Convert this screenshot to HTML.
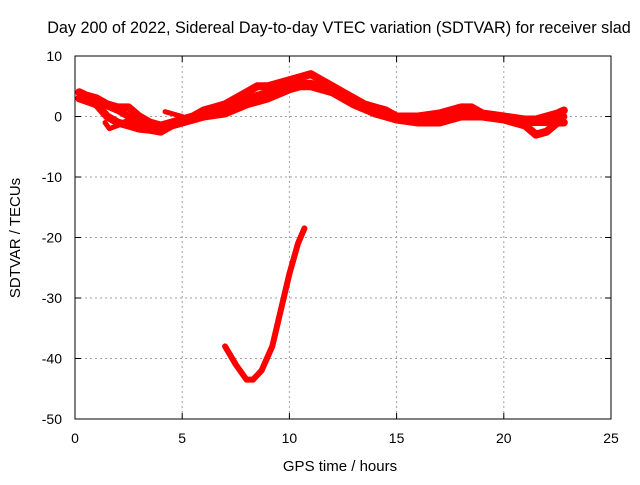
<!DOCTYPE html>
<html><head><meta charset="utf-8"><style>
body{margin:0;background:#fff;font-family:"Liberation Sans",sans-serif}
svg text{font-family:"Liberation Sans",sans-serif;font-size:14px;fill:#000}
</style></head><body>
<svg id="chart" width="640" height="480">
<text x="339" y="33" text-anchor="middle" style="font-size:16.2px">Day 200 of 2022, Sidereal Day-to-day VTEC variation (SDTVAR) for receiver slad</text>
<text x="340" y="471" text-anchor="middle" style="font-size:15px">GPS time / hours</text>
<text transform="translate(20,238) rotate(-90)" text-anchor="middle" style="font-size:15px">SDTVAR / TECUs</text>
<g id="grid"></g><g id="series"></g>
<rect x="75" y="56" width="536" height="363" fill="none" stroke="#000" stroke-width="1"/>
</svg>
<script>
const xTicks=[0,5,10,15,20,25];
const yTicks=[10,0,-10,-20,-30,-40,-50];
const seriesUpperH=[0.2,0.5,1,1.5,2,2.5,3,3.5,4,4.5,5,5.5,6,6.5,7,7.5,8,8.5,9,9.5,10,10.5,11,11.5,12,12.5,13,13.5,14,14.5,15,16,17,18,18.5,19,20,21,21.5,22,22.5,22.8];
const seriesUpperV=[4,3.5,3,2,1.5,1.5,0,-1,-1.5,-1,-0.5,0,1,1.5,2,3,4,5,5,5.5,6,6.5,7,6,5,4,3,2,1.5,1,0,0,0.5,1.5,1.5,0.5,0,-0.5,-0.5,0,0.5,1];
const seriesMidH=[0.3,1,2,3,4,5,6,7,8,9,10,10.5,11,12,13,14,15,16,17,18,19,20,21,22,22.8];
const seriesMidV=[3.5,2.5,1,-1,-2,-1,0.5,1.5,3,4,5,5.5,5.5,4.5,2.5,1,0,-0.5,0,1,0.5,-0.5,-1,-1,0];
const seriesLowerH=[0.2,1,1.5,2,2.5,3,3.5,4,4.5,5,6,7,8,9,10,10.5,11,11.5,12,13,14,15,16,17,18,19,20,21,21.5,22,22.5,22.8];
const seriesLowerV=[3,2,0,-1,-1.5,-2,-2.2,-2.5,-1.5,-1,0,0.5,2,3,4.5,5,5,4.5,4,2,0.5,-0.5,-1,-1,0,0,-0.5,-1.5,-3,-2.5,-1,-1];
const seriesShortH=[1.4,1.6,2,2.5,3];
const seriesShortV=[-1,-2,-1.5,-0.5,-1.5];
const seriesPieceH=[4.2,4.5,5];
const seriesPieceV=[0.8,0.5,0];
const seriesDipH=[7,7.5,8,8.3,8.7,9.2,9.6,10,10.4,10.7];
const seriesDipV=[-38,-41,-43.5,-43.5,-42,-38,-32,-26,-21,-18.5];
const X=h=>75+h*536/25, Y=v=>56+(10-v)*363/60;
const NS='http://www.w3.org/2000/svg', svg=document.getElementById('chart');
const grid=document.getElementById('grid'), ser=document.getElementById('series');
function mk(t,a,p){const e=document.createElementNS(NS,t);for(const k in a)e.setAttribute(k,a[k]);p.appendChild(e);return e;}
xTicks.forEach(t=>{
 if(t>0&&t<25){const g=mk('line',{x1:X(t),x2:X(t),y1:56,y2:419,stroke:'#a0a0a0','stroke-dasharray':'2,3'},grid);
 
 }
 mk('line',{x1:X(t),x2:X(t),y1:419,y2:413,stroke:'#000'},grid);mk('line',{x1:X(t),x2:X(t),y1:56,y2:62,stroke:'#000'},grid);
 const l=mk('text',{x:X(t),y:443,'text-anchor':'middle'},grid);l.textContent=t;
 
 
});
yTicks.forEach(t=>{
 if(t<10&&t>-50){const g=mk('line',{x1:75,x2:611,y1:Y(t),y2:Y(t),stroke:'#a0a0a0','stroke-dasharray':'2,3'},grid);
 
 }
 mk('line',{x1:75,x2:81,y1:Y(t),y2:Y(t),stroke:'#000'},grid);mk('line',{x1:611,x2:605,y1:Y(t),y2:Y(t),stroke:'#000'},grid);
 const l=mk('text',{x:62,y:Y(t)+5,'text-anchor':'end'},grid);l.textContent=t;
 
 
});
function draw(H,V,name,w){
 const pts=H.map((h,i)=>X(h)+','+Y(V[i])).join(' ');
 const p=mk('polyline',{points:pts,fill:'none',stroke:'#ff0000','stroke-width':w,'stroke-linejoin':'round','stroke-linecap':'round'},ser);
 
 
}
draw(seriesUpperH,seriesUpperV,'series-upper-arc',8);
draw(seriesMidH,seriesMidV,'series-mid-arc',7);
draw(seriesLowerH,seriesLowerV,'series-lower-arc',8);
draw(seriesShortH,seriesShortV,'series-short-arc',5);
draw(seriesPieceH,seriesPieceV,'series-piece-arc',5);
draw(seriesDipH,seriesDipV,'series-dip-arc',6);
</script>
</body></html>
